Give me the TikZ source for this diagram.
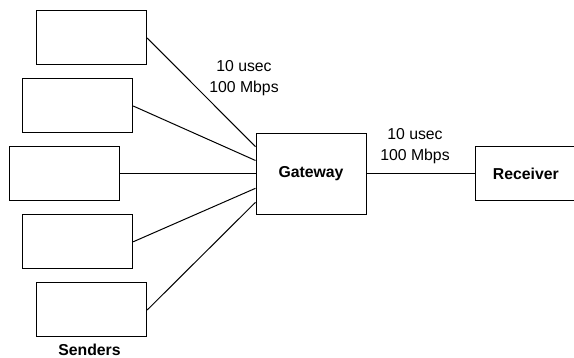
\documentclass[tikz,border=0pt]{standalone}
\usepackage{fontspec}
\setmainfont{Liberation Sans}
\begin{document}
\begin{tikzpicture}[x=1pt,y=-1pt,
  box/.style={draw,line width=1pt,minimum width=110pt,minimum height=54pt,inner sep=0pt},
  link/.style={line width=1pt},
  lbl/.style={align=center,inner sep=0pt,font=\fontsize{15.8}{21.5}\selectfont},
  blbl/.style={inner sep=0pt,font=\fontsize{15.8}{21.5}\selectfont\bfseries}]
\useasboundingbox (0,0) rectangle (574,358);
\node[box] (s1) at (91.7,38) {};
\node[box] (s2) at (77.7,106) {};
\node[box] (s3) at (64,174) {};
\node[box] (s4) at (77.7,241.8) {};
\node[box] (s5) at (91.7,310) {};
\node[box,minimum height=81pt,font=\fontsize{15.8}{21.5}\selectfont\bfseries] (gw) at (311,174) {Gateway};
\node[box,minimum width=101pt,font=\fontsize{15.8}{21.5}\selectfont\bfseries] (rx) at (525.8,174) {Receiver};
\node[blbl,anchor=base] (snd) at (89.5,355.5) {Senders};
\node[lbl] (l1) at (244,78) {10 usec\\100 Mbps};
\node[lbl] (l2) at (415,146) {10 usec\\100 Mbps};
\draw[link] (s1.east) -- ([yshift=27.3pt]gw.west);
\draw[link] (s2.east) -- ([yshift=13.5pt]gw.west);
\draw[link] (s3.east) -- (gw.west);
\draw[link] (s4.east) -- ([yshift=-14.3pt]gw.west);
\draw[link] (s5.east) -- ([yshift=-28.3pt]gw.west);
\draw[link] (gw.east) -- (rx.west);
\end{tikzpicture}
\end{document}
